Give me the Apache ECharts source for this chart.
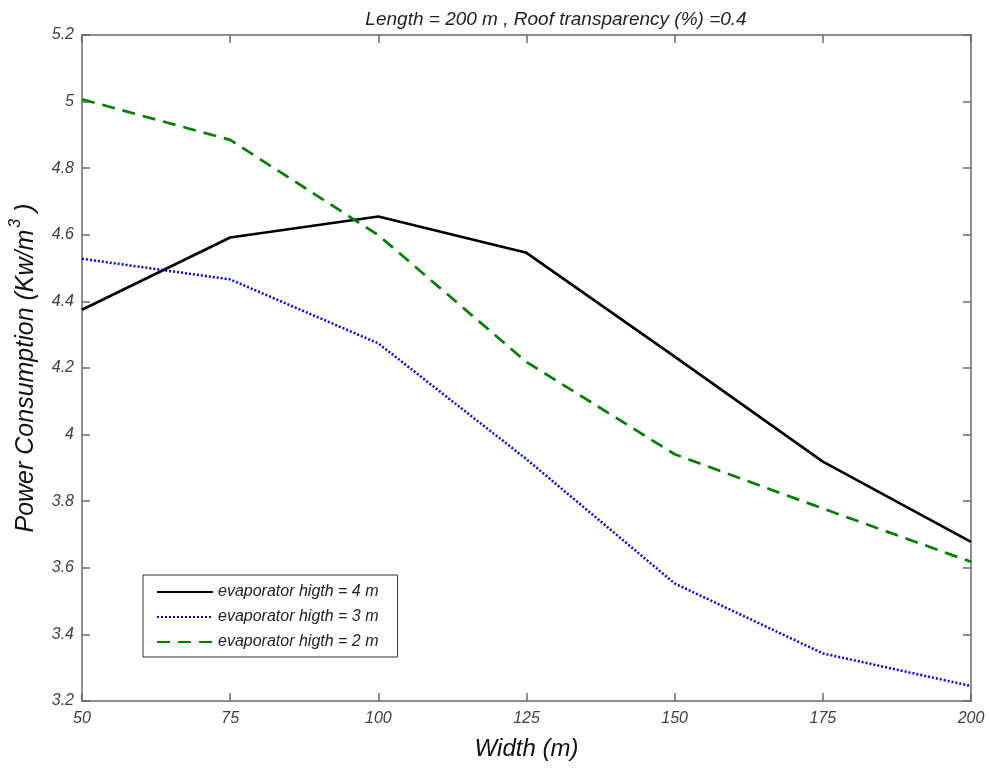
<!DOCTYPE html>
<html><head><meta charset="utf-8">
<script src="https://cdn.jsdelivr.net/npm/echarts@6/dist/echarts.min.js"></script>
<style>html,body{margin:0;padding:0;background:#fff}#c{width:989px;height:769px}</style>
</head><body><div id="c"></div>
<script>
const widths = [50, 75, 100, 125, 150, 175, 200];
const h4 = [4.375, 4.592, 4.655, 4.546, 4.234, 3.919, 3.678];
const h3 = [4.528, 4.466, 4.274, 3.926, 3.553, 3.343, 3.245];
const h2 = [5.007, 4.885, 4.599, 4.218, 3.941, 3.778, 3.618];
const names = ['evaporator higth = 4 m', 'evaporator higth = 3 m', 'evaporator higth = 2 m'];

const font = 'Liberation Sans, Arial, sans-serif';
const axisCol = '#6a6a6a';
const lab = {color: '#404040', fontStyle: 'italic', fontFamily: font, fontSize: 16};
function pairs(v){ return widths.map((w,i)=>[w, v[i]]); }

const chart = echarts.init(document.getElementById('c'));
chart.setOption({
  animation: false,
  title: {text: 'Length = 200 m , Roof transparency (%) =0.4', left: 551, top: 5, textAlign: 'center',
    textStyle: {fontFamily: font, fontStyle: 'italic', fontWeight: 'normal', fontSize: 19, color: '#222'}},
  grid: {left: 81, right: 18, top: 35, bottom: 68, show: false},
  legend: {orient: 'vertical', left: 143, top: 575, data: names, itemWidth: 56, itemHeight: 14, itemGap: 9,
    padding: [9, 19, 7, 13], borderColor: '#333', borderWidth: 1, backgroundColor: '#fff',
    itemStyle: {opacity: 0},
    textStyle: {fontFamily: font, fontStyle: 'italic', fontSize: 16, color: '#222'}},
  xAxis: [
    {type: 'value', min: 50, max: 200, interval: 25, position: 'bottom',
     name: 'Width (m)', nameLocation: 'middle', nameGap: 36,
     nameTextStyle: {fontFamily: font, fontStyle: 'italic', fontSize: 24, color: '#111'},
     axisLine: {show: true, lineStyle: {color: axisCol, width: 1.5}},
     axisTick: {show: true, inside: true, length: 8, lineStyle: {color: axisCol, width: 1.5}},
     axisLabel: Object.assign({margin: 10}, lab), splitLine: {show: false}},
    {type: 'value', min: 50, max: 200, interval: 25, position: 'top',
     axisLine: {show: true, onZero: false, lineStyle: {color: axisCol, width: 1.5}},
     axisTick: {show: true, inside: true, length: 8, lineStyle: {color: axisCol, width: 1.5}},
     axisLabel: {show: false}, splitLine: {show: false}}
  ],
  yAxis: [
    {type: 'value', min: 3.2, max: 5.2, interval: 0.2, position: 'left',
     name: '{a|Power Consumption (Kw/m}{s|3}{a| )}', nameLocation: 'middle', nameGap: 38, nameRotate: 90,
     nameTextStyle: {rich: {a: {fontFamily: font, fontStyle: 'italic', fontSize: 25, color: '#111'},
                            s: {fontFamily: font, fontStyle: 'italic', fontSize: 16, color: '#111', verticalAlign: 'top', padding: [0,0,20,2]}}},
     axisLine: {show: true, onZero: false, lineStyle: {color: axisCol, width: 1.5}},
     axisTick: {show: true, inside: true, length: 8, lineStyle: {color: axisCol, width: 1.5}},
     axisLabel: Object.assign({margin: 8, formatter: v => String(+v.toFixed(1))}, lab), splitLine: {show: false}},
    {type: 'value', min: 3.2, max: 5.2, interval: 0.2, position: 'right',
     axisLine: {show: true, onZero: false, lineStyle: {color: axisCol, width: 1.5}},
     axisTick: {show: true, inside: true, length: 8, lineStyle: {color: axisCol, width: 1.5}},
     axisLabel: {show: false}, splitLine: {show: false}}
  ],
  series: [
    {name: names[0], type: 'line', data: pairs(h4), symbol: 'none', color: '#000',
     lineStyle: {color: '#000', width: 2.7, type: 'solid'}},
    {name: names[1], type: 'line', data: pairs(h3), symbol: 'none', color: '#0000ff',
     lineStyle: {color: '#0000ff', width: 2.5, type: [2, 2]}},
    {name: names[2], type: 'line', data: pairs(h2), symbol: 'none', color: '#008000',
     lineStyle: {color: '#008000', width: 2.7, type: [13, 8]}}
  ]
});
</script></body></html>
